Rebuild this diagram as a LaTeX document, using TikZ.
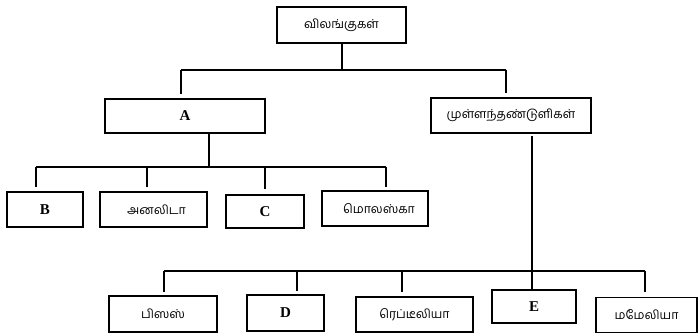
\documentclass[tikz,border=0pt]{standalone}
\usepackage{fontspec}
\setmainfont{Liberation Serif}
\newfontfamily\tamil[Script=Tamil]{Hind Madurai}
\begin{document}
\begin{tikzpicture}[x=1pt,y=1pt,
  box/.style={draw=black,line width=1.6pt,inner sep=0pt,minimum height=35pt},
  tam/.style={font=\tamil\fontsize{12.3}{13}\selectfont},
  lat/.style={font=\fontsize{15}{16}\selectfont\bfseries},
  conn/.style={line width=1.6pt,draw=black}]
\useasboundingbox (0,0) rectangle (699,333);
% boxes (y = 333 - pixel row)
\node[box,tam,minimum width=129pt,minimum height=36pt] (top) at (341.5,308) {விலங்குகள்};
\node[box,lat,minimum width=160pt,minimum height=34pt] (A) at (185,217) {A};
\node[box,tam,minimum width=160pt] (V) at (511,217.5) {முள்ளந்தண்டுளிகள்};
\node[box,lat,minimum width=76pt] (B) at (45,123.5) {B};
\node[box,tam,minimum width=107pt] (An) at (153.5,123.5) {\hspace*{6pt}அனலிடா};
\node[box,lat,minimum width=78pt,minimum height=33pt] (C) at (265,121.5) {C};
\node[box,tam,minimum width=106pt] (Mo) at (375,124.5) {\hspace*{8pt}மொலஸ்கா};
\node[box,tam,minimum width=108pt,minimum height=36pt] (P) at (163,19) {பிஸஸ்};
\node[box,lat,minimum width=77pt,minimum height=36pt] (D) at (285.5,20) {D};
\node[box,tam,minimum width=117pt] (R) at (414.5,18.5) {ரெப்டீலியா};
\node[box,lat,minimum width=84pt,minimum height=33pt] (E) at (534,26.5) {E};
\node[box,tam,minimum width=101pt] (M) at (646.5,18) {மமேலியா};
% bus coordinates
\coordinate (j1) at (342,263);
\coordinate (l1) at (181,263);
\coordinate (r1) at (506,263);
\coordinate (j2) at (209,166);
\coordinate (l2) at (36,166);
\coordinate (r2) at (386,166);
\coordinate (j3) at (532,62);
\coordinate (l3) at (164,62);
\coordinate (r3) at (645,62);
% level 1
\draw[conn] (top.south -| j1) -- (j1);
\draw[conn] (l1) -- (r1);
\draw[conn] (l1) -- ([yshift=4pt]A.north -| l1);
\draw[conn] (r1) -- ([yshift=4pt]V.north -| r1);
% level 2 (A)
\draw[conn] (A.south -| j2) -- (j2);
\draw[conn] (l2) -- (r2);
\draw[conn] (l2) -- ([yshift=4pt]B.north -| l2);
\draw[conn] (147,166) -- ([yshift=4pt]An.north -| 147,0);
\draw[conn] (265,166) -- ([yshift=5pt]C.north);
\draw[conn] (r2) -- ([yshift=3pt]Mo.north -| r2);
% level 2 (vertebrates)
\draw[conn] ([yshift=-2pt]V.south -| j3) -- (j3);
\draw[conn] (l3) -- (r3);
\draw[conn] (l3) -- ([yshift=3pt]P.north -| l3);
\draw[conn] (297,62) -- ([yshift=3pt]D.north -| 297,0);
\draw[conn] (402,62) -- ([yshift=4pt]R.north -| 402,0);
\draw[conn] (j3) -- (E.north -| j3);
\draw[conn] (r3) -- ([yshift=5pt]M.north -| r3);
\end{tikzpicture}
\end{document}
